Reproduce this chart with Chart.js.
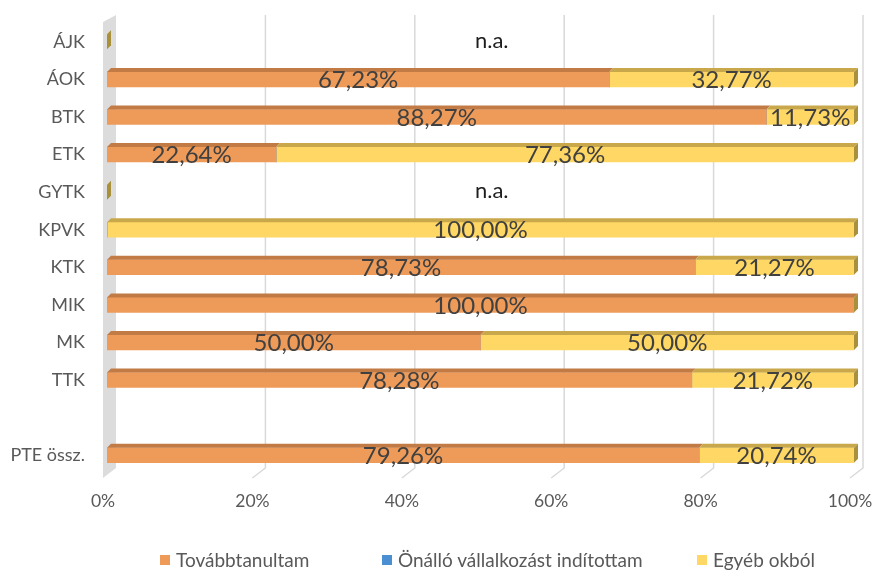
<!DOCTYPE html>
<html>
<head>
<meta charset="utf-8">
<script src="https://cdn.jsdelivr.net/npm/chart.js@4.4.1/dist/chart.umd.min.js"></script>
<style>
  html, body { margin: 0; padding: 0; background: #ffffff; }
  #wrap { position: relative; width: 874px; height: 570px; }
  #legend { position: absolute; left: 0; top: 0; width: 874px; height: 570px; pointer-events: none;
            font-family: Lato, "Open Sans", sans-serif; font-size: 19px; color: #595959; }
  .li { position: absolute; top: 549px; height: 22px; line-height: 22px; white-space: nowrap; }
  .sw { position: absolute; left: 0; top: 6px; width: 10px; height: 10px; }
  .tx { position: absolute; left: 16px; top: 0; }
</style>
</head>
<body>
<div id="wrap">
  <canvas id="c" width="874" height="570"></canvas>
  <div id="legend"></div>
</div>
<script>
// ---- data ----
const categories = ['ÁJK', 'ÁOK', 'BTK', 'ETK', 'GYTK', 'KPVK', 'KTK', 'MIK', 'MK', 'TTK', '', 'PTE össz.'];
const tovabbtanultam = [null, 67.23, 88.27, 22.64, null, 0, 78.73, 100, 50.00, 78.28, null, 79.26];
const onalloVallalkozas = [null, 0, 0, 0, null, 0, 0, 0, 0, 0, null, 0];
const egyebOkbol = [null, 32.77, 11.73, 77.36, null, 100, 21.27, 0, 50.00, 21.72, null, 20.74];
const seriesNames = ['Továbbtanultam', 'Önálló vállalkozást indítottam', 'Egyéb okból'];
const xTicks = [0, 20, 40, 60, 80, 100];
const naText = 'n.a.';

const faceColors = ['#EE9B5A', '#4A8FD2', '#FED764'];
const topColors = ['#C27B45', '#3A72A8', '#C9A84C'];
const sideColor = '#A8913A';

function fmt(v) { return v.toFixed(2).replace('.', ',') + '%'; }

const threeD = {
  id: 'threeD',
  beforeDatasetsDraw(chart) {
    const ctx = chart.ctx, xs = chart.scales.x, a = chart.chartArea;
    const x0 = xs.getPixelForValue(0);
    ctx.save();
    // left wall
    ctx.fillStyle = '#DCDCDC';
    ctx.beginPath();
    ctx.moveTo(x0 - 4, a.top - 1);
    ctx.lineTo(x0 + 9, a.top - 8);
    ctx.lineTo(x0 + 9, a.bottom - 6);
    ctx.lineTo(x0 - 4, a.bottom + 4);
    ctx.closePath();
    ctx.fill();
    // grid lines (back plane) + floor lines
    ctx.strokeStyle = '#D9D9D9';
    ctx.lineWidth = 1.5;
    xTicks.forEach(v => {
      if (v === 0) return;
      const x = xs.getPixelForValue(v) + 9;
      ctx.beginPath();
      ctx.moveTo(x, a.top - 8);
      ctx.lineTo(x, a.bottom - 6);
      ctx.lineTo(x - 13, a.bottom + 4);
      ctx.stroke();
    });
    ctx.restore();
  },
  afterDatasetsDraw(chart) {
    const ctx = chart.ctx, xs = chart.scales.x, ys = chart.scales.y;
    const x0 = xs.getPixelForValue(0);
    ctx.save();
    // top strips of bars
    chart.data.datasets.forEach((ds, di) => {
      const meta = chart.getDatasetMeta(di);
      meta.data.forEach((el, i) => {
        const v = ds.data[i];
        if (v === null || v === 0) return;
        const l = Math.min(el.x, el.base), r = Math.max(el.x, el.base);
        const t = el.y - el.height / 2;
        ctx.fillStyle = topColors[di];
        ctx.beginPath();
        ctx.moveTo(l, t);
        ctx.lineTo(l + 4, t - 4);
        ctx.lineTo(r + 4, t - 4);
        ctx.lineTo(r, t);
        ctx.closePath();
        ctx.fill();
      });
    });
    // end caps and n.a. stubs
    const meta0 = chart.getDatasetMeta(0);
    categories.forEach((c, i) => {
      const el = meta0.data[i];
      const t = el.y - el.height / 2, h = el.height;
      let xe = null;
      if (tovabbtanultam[i] !== null) xe = xs.getPixelForValue(100);
      else if (c !== '') xe = x0;
      if (xe === null) return;
      ctx.fillStyle = sideColor;
      ctx.beginPath();
      ctx.moveTo(xe, t);
      ctx.lineTo(xe + 4, t - 4);
      ctx.lineTo(xe + 4, t + h - 4);
      ctx.lineTo(xe, t + h);
      ctx.closePath();
      ctx.fill();
    });
    // value labels
    ctx.font = '24px Lato, "Open Sans", sans-serif';
    ctx.textAlign = 'center';
    ctx.textBaseline = 'middle';
    [0, 2].forEach(di => {
      const ds = chart.data.datasets[di];
      const meta = chart.getDatasetMeta(di);
      meta.data.forEach((el, i) => {
        const v = ds.data[i];
        if (v === null || v === 0) return;
        ctx.fillStyle = '#404040';
        ctx.fillText(fmt(v), (el.x + el.base) / 2, el.y + 1);
      });
    });
    categories.forEach((c, i) => {
      if (tovabbtanultam[i] === null && c !== '') {
        ctx.font = '22px Lato, "Open Sans", sans-serif';
        ctx.fillStyle = '#1E1E1E';
        ctx.fillText(naText, xs.getPixelForValue(51.5), ys.getPixelForValue(i) - 1);
      }
    });
    ctx.restore();
  }
};

const dataSeries = [tovabbtanultam, onalloVallalkozas, egyebOkbol];

new Chart(document.getElementById('c'), {
  type: 'bar',
  data: {
    labels: categories,
    datasets: dataSeries.map((d, i) => ({
      label: seriesNames[i],
      data: d,
      backgroundColor: faceColors[i],
      borderWidth: 0,
      barThickness: 15
    }))
  },
  options: {
    indexAxis: 'y',
    responsive: false,
    animation: false,
    events: [],
    layout: { padding: { top: 23, right: 20, left: 0, bottom: 0 } },
    plugins: { legend: { display: false }, tooltip: { enabled: false } },
    scales: {
      x: {
        stacked: true,
        min: 0, max: 100,
        afterBuildTicks(s) { s.ticks = xTicks.map(v => ({ value: v })); },
        afterFit(s) { s.height = 96; s.paddingLeft = 0; s.paddingRight = 0; },
        grid: { display: false, drawTicks: false },
        border: { display: false },
        ticks: {
          padding: 17,
          labelOffset: -4,
          maxRotation: 0,
          color: '#595959',
          font: { family: 'Lato, "Open Sans", sans-serif', size: 17.5 },
          callback: v => v + '%'
        }
      },
      y: {
        stacked: true,
        afterFit(s) { s.width = 107; s.paddingTop = 0; s.paddingBottom = 0; },
        grid: { display: false, drawTicks: false },
        border: { display: false },
        ticks: {
          padding: 22,
          color: '#595959',
          font: { family: 'Lato, "Open Sans", sans-serif', size: 18 },
          autoSkip: false
        }
      }
    }
  },
  plugins: [threeD]
});

// HTML legend
const legendPos = [160, 382, 697];
const lg = document.getElementById('legend');
seriesNames.forEach((n, i) => {
  const d = document.createElement('div');
  d.className = 'li';
  d.style.left = legendPos[i] + 'px';
  const sw = document.createElement('span');
  sw.className = 'sw';
  sw.style.background = faceColors[i];
  const tx = document.createElement('span');
  tx.className = 'tx';
  tx.textContent = n;
  d.appendChild(sw);
  d.appendChild(tx);
  lg.appendChild(d);
});
</script>
</body>
</html>
